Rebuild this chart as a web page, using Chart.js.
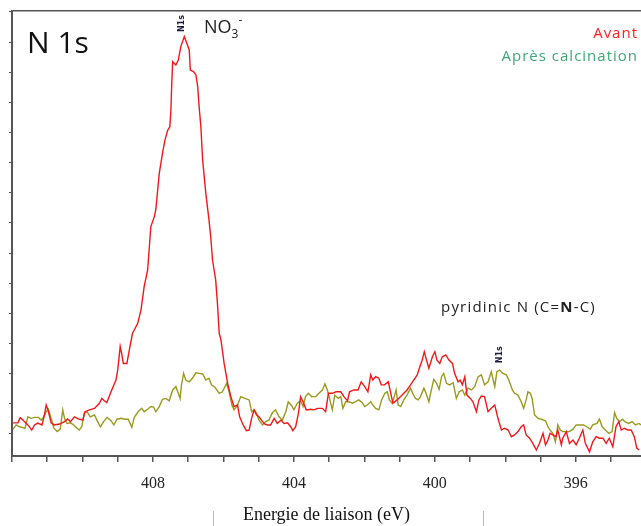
<!DOCTYPE html>
<html>
<head>
<meta charset="utf-8">
<title>N 1s</title>
<script src="https://cdn.jsdelivr.net/npm/chart.js@4.4.1/dist/chart.umd.min.js"></script>
<style>
  html, body { margin: 0; padding: 0; background: #fff; }
  #wrap { width: 641px; height: 526px; }
</style>
</head>
<body>
<div id="wrap"><canvas id="xps" width="641" height="526"></canvas></div>
<script>
// Binding energy (eV) and intensity (a.u.)
const avantEnergy = [
  411.97, 411.83, 411.77, 411.69, 411.55, 411.44, 411.36, 411.27, 411.15, 411.08,
  411.03, 410.98, 410.89, 410.80, 410.65, 410.51, 410.42, 410.34, 410.23, 410.12,
  409.99, 409.93, 409.80, 409.66, 409.52, 409.45, 409.38, 409.31, 409.19, 409.05,
  409.00, 408.93, 408.89, 408.84, 408.74, 408.67, 408.58, 408.53, 408.43, 408.34,
  408.25, 408.15, 408.06, 407.96, 407.92, 407.82, 407.73, 407.66, 407.58, 407.52,
  407.49, 407.47, 407.44, 407.35, 407.28, 407.21, 407.11, 407.04, 406.97, 406.94,
  406.85, 406.78, 406.73, 406.69, 406.64, 406.59, 406.50, 406.41, 406.36, 406.31,
  406.22, 406.17, 406.12, 406.07, 405.98, 405.88, 405.79, 405.70, 405.60, 405.54,
  405.44, 405.35, 405.27, 405.20, 405.13, 405.06, 404.99, 404.89, 404.82, 404.75,
  404.66, 404.56, 404.47, 404.37, 404.28, 404.18, 404.09, 404.03, 403.95, 403.87,
  403.81, 403.74, 403.65, 403.52, 403.43, 403.33, 403.19, 403.10, 403.02, 402.91,
  402.80, 402.67, 402.58, 402.48, 402.42, 402.30, 402.18, 402.09, 401.99, 401.90,
  401.82, 401.76, 401.68, 401.59, 401.52, 401.43, 401.32, 401.26, 401.19, 401.07,
  400.97, 400.88, 400.79, 400.69, 400.60, 400.50, 400.44, 400.36, 400.30, 400.25,
  400.17, 400.07, 400.00, 399.94, 399.86, 399.79, 399.69, 399.60, 399.50, 399.44,
  399.34, 399.28, 399.22, 399.15, 399.09, 398.99, 398.92, 398.82, 398.75, 398.68,
  398.59, 398.49, 398.40, 398.30, 398.21, 398.11, 398.02, 397.92, 397.83, 397.74,
  397.64, 397.55, 397.48, 397.41, 397.31, 397.22, 397.12, 397.03, 396.93, 396.86,
  396.79, 396.73, 396.65, 396.56, 396.51, 396.41, 396.37, 396.27, 396.18, 396.08,
  395.99, 395.90, 395.80, 395.73, 395.61, 395.52, 395.42, 395.33, 395.23, 395.14,
  395.05, 394.95, 394.86, 394.78, 394.71, 394.62, 394.52, 394.43, 394.34, 394.27, 394.20
];
const avantIntensity = [
  0.37, 0.37, 0.54, 0.46, 0.30, 0.13, 0.30, 0.36, 0.30, 0.63,
  0.96, 0.80, 0.37, 0.30, 0.33, 0.41, 0.50, 0.41, 0.57, 0.50,
  0.46, 0.74, 0.80, 0.85, 1.02, 1.18, 1.10, 1.04, 1.40, 1.79,
  2.12, 2.90, 2.68, 2.34, 2.34, 2.79, 3.34, 3.45, 3.68, 4.11,
  4.89, 5.44, 6.88, 7.21, 7.43, 8.65, 9.31, 9.75, 10.08, 10.19,
  10.75, 11.52, 12.35, 12.24, 12.40, 12.85, 13.18, 12.96, 12.74, 12.07,
  12.02, 11.91, 11.52, 10.86, 10.19, 9.09, 7.98, 7.10, 6.54, 5.77,
  5.11, 4.34, 3.34, 3.12, 2.34, 1.68, 1.24, 0.91, 0.96, 0.57,
  0.30, 0.11, 0.13, 0.52, 0.80, 0.63, 0.57, 0.41, 0.33, 0.30,
  0.30, 0.52, 0.35, 0.46, 0.35, 0.37, 0.24, 0.11, 0.24, 0.69,
  1.24, 1.07, 0.80, 0.82, 0.80, 0.85, 0.85, 0.74, 1.35, 1.35,
  1.40, 1.40, 1.24, 1.10, 1.40, 1.46, 1.46, 1.73, 1.57, 1.40,
  1.96, 1.79, 1.90, 1.85, 1.63, 1.63, 1.73, 1.40, 1.02, 1.13,
  1.24, 1.35, 1.46, 1.63, 1.79, 1.96, 2.18, 2.45, 2.73, 2.51,
  2.18, 2.56, 2.73, 2.45, 2.34, 2.56, 2.62, 2.45, 2.34, 2.01,
  1.73, 1.79, 1.63, 1.90, 1.29, 1.18, 1.07, 0.74, 1.13, 1.26,
  1.24, 0.74, 0.85, 0.96, 0.52, 0.13, 0.19, 0.13, -0.09, -0.03,
  0.08, 0.24, 0.30, -0.03, -0.14, -0.31, -0.53, -0.31, 0.02, -0.36,
  -0.20, 0.02, -0.03, -0.09, 0.13, -0.36, -0.14, 0.08, -0.31, -0.20,
  -0.36, -0.14, 0.13, -0.31, -0.59, -0.26, -0.09, -0.14, -0.14, -0.31,
  -0.14, -0.42, 0.24, 0.41, 0.13, 0.19, 0.13, 0.13, -0.09, -0.47, -0.53
];

const calcEnergy = [
  411.97, 411.88, 411.79, 411.72, 411.63, 411.55, 411.46, 411.36, 411.25, 411.17,
  411.11, 411.03, 410.97, 410.89, 410.81, 410.72, 410.63, 410.56, 410.51, 410.44,
  410.34, 410.25, 410.15, 410.09, 410.02, 409.95, 409.87, 409.78, 409.66, 409.57,
  409.49, 409.40, 409.30, 409.19, 409.11, 409.02, 408.91, 408.79, 408.70, 408.60,
  408.53, 408.42, 408.32, 408.25, 408.15, 408.06, 407.98, 407.92, 407.82, 407.73,
  407.63, 407.54, 407.44, 407.35, 407.28, 407.23, 407.19, 407.13, 407.07, 406.97,
  406.88, 406.78, 406.69, 406.59, 406.50, 406.41, 406.34, 406.24, 406.12, 406.03,
  405.91, 405.84, 405.76, 405.70, 405.60, 405.51, 405.39, 405.27, 405.20, 405.13,
  405.06, 404.99, 404.89, 404.80, 404.71, 404.61, 404.52, 404.42, 404.33, 404.23,
  404.16, 404.06, 404.00, 403.90, 403.81, 403.74, 403.67, 403.59, 403.50, 403.38,
  403.29, 403.19, 403.12, 403.05, 402.99, 402.91, 402.84, 402.74, 402.67, 402.61,
  402.53, 402.44, 402.34, 402.25, 402.16, 402.06, 401.99, 401.92, 401.82, 401.76,
  401.68, 401.59, 401.51, 401.42, 401.35, 401.29, 401.21, 401.14, 401.10, 401.04,
  400.97, 400.88, 400.79, 400.69, 400.63, 400.55, 400.47, 400.41, 400.31, 400.25,
  400.17, 400.10, 400.03, 399.95, 399.88, 399.81, 399.75, 399.67, 399.58, 399.48,
  399.39, 399.31, 399.22, 399.15, 399.06, 398.96, 398.87, 398.77, 398.68, 398.59,
  398.49, 398.40, 398.30, 398.24, 398.16, 398.07, 397.97, 397.90, 397.80, 397.74,
  397.64, 397.55, 397.48, 397.41, 397.36, 397.29, 397.24, 397.17, 397.07, 396.98,
  396.86, 396.79, 396.73, 396.65, 396.58, 396.51, 396.44, 396.37, 396.27, 396.18,
  396.08, 395.99, 395.90, 395.78, 395.69, 395.59, 395.52, 395.40, 395.33, 395.25,
  395.16, 395.06, 394.97, 394.90, 394.84, 394.76, 394.67, 394.61, 394.50, 394.40, 394.31, 394.21, 394.15
];
const calcIntensity = [
  0.16, 0.30, 0.24, 0.22, 0.19, 0.57, 0.52, 0.55, 0.55, 0.46,
  0.55, 0.74, 0.82, 0.52, 0.19, 0.08, 0.16, 0.80, 0.52, 0.35,
  0.37, 0.30, 0.19, 0.13, 0.24, 0.69, 0.74, 0.57, 0.63, 0.41,
  0.24, 0.41, 0.55, 0.44, 0.30, 0.49, 0.52, 0.49, 0.49, 0.22,
  0.55, 0.74, 0.85, 0.74, 0.82, 0.91, 0.89, 0.74, 0.91, 1.15,
  1.18, 1.10, 1.46, 1.57, 1.35, 1.18, 1.63, 2.01, 1.79, 1.73,
  1.85, 2.03, 2.01, 1.99, 1.79, 1.85, 1.63, 1.55, 1.35, 1.40,
  1.68, 1.40, 0.96, 0.80, 0.96, 1.24, 1.18, 1.13, 0.74, 0.80,
  0.69, 0.46, 0.30, 0.41, 0.46, 0.71, 0.80, 0.57, 0.46, 0.74,
  1.07, 0.93, 0.80, 1.02, 1.10, 0.91, 1.24, 1.35, 1.24, 1.24,
  1.35, 1.46, 1.66, 1.46, 1.18, 0.80, 1.29, 1.18, 1.24, 0.85,
  1.07, 1.07, 1.02, 1.07, 1.13, 1.04, 0.91, 0.96, 1.07, 0.96,
  0.85, 0.80, 1.13, 1.35, 1.40, 1.13, 1.02, 1.29, 1.46, 0.96,
  0.91, 1.13, 1.29, 1.52, 1.35, 1.18, 1.13, 1.24, 1.52, 1.35,
  1.07, 1.46, 1.81, 1.68, 1.48, 1.90, 2.01, 1.68, 1.63, 1.70,
  1.18, 1.40, 1.46, 1.29, 1.52, 1.46, 1.57, 1.90, 1.96, 1.63,
  1.73, 2.07, 1.57, 2.07, 2.12, 2.01, 1.96, 1.79, 1.46, 1.35,
  1.29, 1.07, 0.85, 1.13, 1.40, 1.35, 1.18, 0.63, 0.52, 0.49,
  0.44, 0.24, 0.13, 0.02, -0.26, 0.30, 0.13, 0.08, 0.08, 0.08,
  0.16, 0.30, 0.30, 0.30, 0.24, 0.16, 0.30, 0.35, 0.49, 0.24,
  0.13, 0.02, 0.08, 0.71, 0.52, 0.41, 0.49, 0.41, 0.35, 0.41, 0.30, 0.35, 0.30
];

// axis tick labels shown on the energy axis
const energyTickLabels = [408, 404, 400, 396];

// small "N1s" peak markers (energy, intensity at the bottom of the mark)
const markerEnergy = [407.17, 398.16];
const markerLevel = [13.33, 2.35];

const toPoints = (xs, ys) => xs.map((e, i) => ({ x: e, y: ys[i] }));

// Draws the free text of the figure
const annotations = {
  id: "annotations",
  afterDraw(chart) {
    const ctx = chart.ctx;
    const xs = chart.scales.x, ys = chart.scales.y;
    ctx.save();
    ctx.textBaseline = "alphabetic";
    ctx.textAlign = "left";

    // N 1s title in the corner
    ctx.fillStyle = "#111";
    ctx.font = '30px "Open Sans"';
    ctx.fillText("N 1s", 27, 53);

    // NO3- label
    ctx.fillStyle = "#222";
    ctx.font = '18px "Open Sans"';
    ctx.fillText("NO", 204, 33);
    const noW = ctx.measureText("NO").width;
    ctx.font = '12px "Open Sans"';
    ctx.fillText("3", 204 + noW, 38);
    ctx.fillText("-", 204 + noW + 7, 24);

    // rotated N1s markers
    ctx.fillStyle = "#1c1c3c";
    ctx.font = 'bold 8px "DejaVu Sans"';
    markerEnergy.forEach((e, i) => {
      ctx.save();
      ctx.translate(xs.getPixelForValue(e), ys.getPixelForValue(markerLevel[i]));
      ctx.rotate(-Math.PI / 2);
      ctx.textBaseline = "middle";
      ctx.fillText("N1s", 0, 0);
      ctx.restore();
    });

    // pyridinic N label, bold N inside the bracket
    ctx.fillStyle = "#222";
    ctx.letterSpacing = "1.2px";
    let px = 441;
    const parts = [["pyridinic N (C=", ""], ["N", "bold "], ["-C)", ""]];
    parts.forEach(([t, w]) => {
      ctx.font = w + '15px "Open Sans"';
      ctx.fillText(t, px, 312);
      px += ctx.measureText(t).width;
    });

    // legend text, right aligned
    ctx.letterSpacing = "1px";
    ctx.textAlign = "right";
    ctx.font = '15px "Open Sans"';
    ctx.fillStyle = "#ff2020";
    ctx.fillText("Avant", 638, 38);
    ctx.fillStyle = "#3ea677";
    ctx.fillText("Après calcination", 638, 61);
    ctx.letterSpacing = "0px";

    // faint bars around the axis title
    ctx.strokeStyle = "#bbb";
    ctx.lineWidth = 1;
    ctx.beginPath();
    ctx.moveTo(213.5, 511); ctx.lineTo(213.5, 526);
    ctx.moveTo(483.5, 511); ctx.lineTo(483.5, 526);
    ctx.stroke();
    ctx.restore();
  }
};

new Chart(document.getElementById("xps").getContext("2d"), {
  type: "line",
  data: {
    datasets: [
      {
        label: "Avant",
        data: toPoints(avantEnergy, avantIntensity),
        borderColor: "#f01818",
        borderWidth: 1.4,
        pointRadius: 0,
        tension: 0
      },
      {
        label: "Après calcination",
        data: toPoints(calcEnergy, calcIntensity),
        borderColor: "#9a9a1e",
        borderWidth: 1.4,
        pointRadius: 0,
        tension: 0
      }
    ]
  },
  options: {
    responsive: false,
    devicePixelRatio: 1,
    animation: false,
    parsing: false,
    layout: { padding: 0 },
    plugins: {
      legend: { display: false },
      tooltip: { enabled: false }
    },
    scales: {
      x: {
        type: "linear",
        position: "bottom",
        reverse: true,
        min: 394.15,
        max: 412,
        afterFit: (scale) => { scale.height = 70; },
        ticks: {
          stepSize: 1,
          includeBounds: false,
          autoSkip: false,
          maxRotation: 0,
          padding: 12,
          color: "#222",
          font: { family: '"Liberation Serif"', size: 16 },
          callback: (v) => energyTickLabels.includes(v) ? String(v) : ""
        },
        grid: {
          drawOnChartArea: false,
          drawTicks: true,
          tickLength: 6,
          color: "#555",
          lineWidth: 1.5
        },
        border: { display: true, color: "#555", width: 2 },
        title: {
          display: true,
          text: "Energie de liaison (eV)",
          color: "#111",
          font: { family: '"Liberation Serif"', size: 18 },
          padding: { top: 0, bottom: 0 }
        }
      },
      xTop: {
        type: "linear",
        position: "top",
        reverse: true,
        min: 394.15,
        max: 412,
        afterFit: (scale) => { scale.height = 11; },
        ticks: { display: false },
        grid: { display: false, drawTicks: false },
        border: { display: true, color: "#555", width: 1.5 }
      },
      y: {
        type: "linear",
        position: "left",
        min: -0.73,
        max: 14.03,
        afterFit: (scale) => { scale.width = 11; },
        ticks: { display: false, stepSize: 1, includeBounds: false },
        grid: {
          drawOnChartArea: false,
          drawTicks: true,
          tickLength: 3,
          color: "#555",
          lineWidth: 1
        },
        border: { display: true, color: "#555", width: 2 }
      }
    }
  },
  plugins: [annotations]
});
</script>
</body>
</html>
